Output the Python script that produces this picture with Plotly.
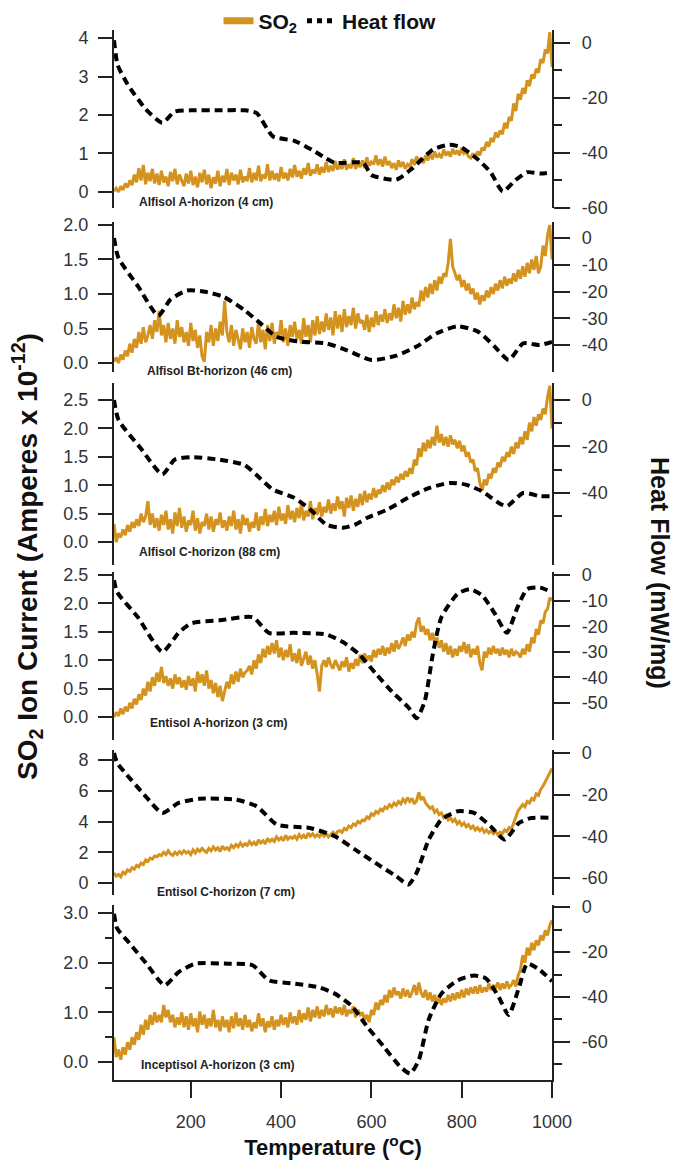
import numpy as np
import plotly.graph_objects as go
from plotly.subplots import make_subplots

# Temperature grid of the SO2 traces (deg C)
temperature = list(range(30, 1001, 5))

# SO2 ion current (Amperes x 1e-12) at 5 degC steps
so2_alfisol_a = [
    0.02, 0.10, 0.00, 0.15, 0.05, 0.22, 0.12, 0.30, 0.18, 0.45,
    0.25, 0.62, 0.30, 0.70, 0.20, 0.50, 0.28, 0.60, 0.22, 0.48,
    0.18, 0.55, 0.25, 0.40, 0.15, 0.52, 0.28, 0.60, 0.20, 0.45,
    0.30, 0.15, 0.48, 0.22, 0.55, 0.18, 0.40, 0.12, 0.50, 0.25,
    0.58, 0.20, 0.45, 0.10, 0.38, 0.22, 0.55, 0.15, 0.42, 0.25,
    0.60, 0.18, 0.50, 0.30, 0.45, 0.20, 0.58, 0.25, 0.40, 0.28,
    0.62, 0.25, 0.50, 0.30, 0.68, 0.28, 0.45, 0.35, 0.72, 0.30,
    0.55, 0.32, 0.48, 0.28, 0.65, 0.35, 0.50, 0.30, 0.60, 0.38,
    0.70, 0.40, 0.55, 0.35, 0.62, 0.45, 0.75, 0.42, 0.58, 0.48,
    0.72, 0.45, 0.65, 0.50, 0.78, 0.52, 0.68, 0.55, 0.80, 0.58,
    0.70, 0.60, 0.85, 0.58, 0.72, 0.62, 0.88, 0.60, 0.75, 0.65,
    0.82, 0.62, 0.90, 0.68, 0.78, 0.72, 0.95, 0.70, 0.85, 0.66,
    0.92, 0.70, 0.80, 0.62, 0.75, 0.58, 0.82, 0.65, 0.78, 0.60,
    0.72, 0.66, 0.85, 0.70, 0.92, 0.78, 0.88, 0.75, 0.95, 0.82,
    1.00, 0.85, 1.05, 0.90, 0.98, 0.88, 1.10, 0.95, 1.05, 0.92,
    1.12, 0.98, 1.08, 0.95, 1.15, 1.00, 1.05, 0.92, 0.88, 1.00,
    0.90, 1.05, 0.95, 1.15, 1.08, 1.30, 1.18, 1.40, 1.30, 1.55,
    1.42, 1.60, 1.50, 1.80, 1.65, 1.95, 1.85, 2.30, 2.10, 2.55,
    2.40, 2.70, 2.55, 2.90, 2.75, 3.05, 2.95, 3.20, 3.10, 3.45,
    3.35, 3.70, 3.60, 4.15, 3.25,
]
so2_alfisol_bt = [
    0.02, 0.08, 0.00, 0.12, 0.05, 0.18, 0.10, 0.28, 0.15, 0.35,
    0.22, 0.45, 0.28, 0.52, 0.30, 0.40, 0.55, 0.35, 0.62, 0.45,
    0.76, 0.40, 0.55, 0.30, 0.58, 0.35, 0.50, 0.28, 0.62, 0.38,
    0.52, 0.30, 0.45, 0.25, 0.58, 0.32, 0.48, 0.22, 0.40, 0.10,
    0.02, 0.45, 0.30, 0.55, 0.25, 0.50, 0.32, 0.60, 0.40, 0.90,
    0.45, 0.30, 0.55, 0.25, 0.48, 0.35, 0.20, 0.50, 0.30, 0.45,
    0.22, 0.52, 0.35, 0.28, 0.60, 0.30, 0.48, 0.20, 0.55, 0.32,
    0.58, 0.28, 0.45, 0.35, 0.62, 0.30, 0.50, 0.25, 0.55, 0.38,
    0.60, 0.35, 0.48, 0.28, 0.65, 0.38, 0.55, 0.30, 0.62, 0.40,
    0.68, 0.42, 0.60, 0.45, 0.72, 0.48, 0.66, 0.40, 0.75, 0.50,
    0.70, 0.45, 0.78, 0.52, 0.68, 0.55, 0.80, 0.50, 0.72, 0.58,
    0.62, 0.48, 0.70, 0.45, 0.66, 0.52, 0.75, 0.55, 0.70, 0.60,
    0.78, 0.58, 0.72, 0.62, 0.85, 0.65, 0.80, 0.60, 0.90, 0.70,
    0.85, 0.72, 0.95, 0.78, 0.88, 0.82, 1.05, 0.90, 1.10, 0.95,
    1.15, 1.00, 1.20, 1.05, 1.25, 1.15, 1.30, 1.25, 1.45, 1.80,
    1.40, 1.30, 1.20, 1.28, 1.10, 1.20, 1.05, 1.15, 1.00, 1.08,
    0.92, 1.02, 0.85, 0.98, 0.90, 1.05, 0.95, 1.10, 1.00, 1.15,
    1.05, 1.20, 1.08, 1.25, 1.12, 1.22, 1.15, 1.30, 1.18, 1.35,
    1.22, 1.40, 1.25, 1.45, 1.30, 1.50, 1.35, 1.55, 1.30, 1.40,
    1.70, 1.55, 1.85, 2.00, 1.50,
]
so2_alfisol_c = [
    0.32, 0.00, 0.15, 0.08, 0.22, 0.12, 0.30, 0.18, 0.35, 0.25,
    0.40, 0.28, 0.50, 0.35, 0.45, 0.72, 0.30, 0.50, 0.25, 0.42,
    0.20, 0.48, 0.30, 0.55, 0.22, 0.40, 0.15, 0.52, 0.28, 0.60,
    0.25, 0.45, 0.18, 0.38, 0.30, 0.55, 0.20, 0.42, 0.15, 0.35,
    0.28, 0.50, 0.22, 0.45, 0.18, 0.40, 0.30, 0.52, 0.25, 0.38,
    0.20, 0.45, 0.28, 0.55, 0.22, 0.40, 0.15, 0.48, 0.30, 0.42,
    0.18, 0.35, 0.25, 0.52, 0.20, 0.45, 0.30, 0.58, 0.28, 0.48,
    0.35, 0.55, 0.30, 0.62, 0.38, 0.50, 0.32, 0.65, 0.40, 0.55,
    0.35, 0.60, 0.42, 0.68, 0.38, 0.55, 0.45, 0.72, 0.40, 0.60,
    0.48, 0.70, 0.45, 0.62, 0.52, 0.75, 0.50, 0.68, 0.55, 0.80,
    0.58, 0.72, 0.45, 0.78, 0.60, 0.82, 0.55, 0.76, 0.62, 0.85,
    0.65, 0.90, 0.70, 0.85, 0.75, 0.95, 0.78, 0.92, 0.85, 1.00,
    0.88, 1.05, 0.92, 1.10, 1.00, 1.15, 1.05, 1.20, 1.10, 1.25,
    1.15, 1.30, 1.20, 1.45, 1.35, 1.65, 1.50, 1.75, 1.60, 1.80,
    1.65, 1.85, 1.70, 2.05, 1.75, 1.90, 1.70, 1.85, 1.68, 1.88,
    1.72, 1.80, 1.65, 1.78, 1.60, 1.70, 1.50, 1.58, 1.40, 1.45,
    1.25, 1.30, 1.05, 0.90, 1.10, 1.00, 1.20, 1.12, 1.30, 1.22,
    1.40, 1.32, 1.50, 1.42, 1.58, 1.50, 1.68, 1.55, 1.75, 1.65,
    1.85, 1.72, 1.95, 1.80, 2.10, 1.95, 2.20, 2.05, 2.25, 2.15,
    2.35, 2.25, 2.55, 2.75, 2.00,
]
so2_entisol_a = [
    0.00, 0.08, 0.02, 0.15, 0.05, 0.18, 0.10, 0.25, 0.15, 0.32,
    0.22, 0.40, 0.30, 0.50, 0.38, 0.62, 0.45, 0.70, 0.55, 0.78,
    0.62, 0.88, 0.60, 0.72, 0.55, 0.68, 0.50, 0.75, 0.58, 0.70,
    0.52, 0.65, 0.48, 0.72, 0.55, 0.68, 0.45, 0.80, 0.60, 0.75,
    0.55, 0.82, 0.50, 0.65, 0.42, 0.60, 0.35, 0.55, 0.28, 0.45,
    0.62, 0.50, 0.75, 0.58, 0.80, 0.62, 0.85, 0.70, 0.78, 0.82,
    0.90, 0.75, 1.00, 0.85, 1.10, 0.95, 1.20, 1.05, 1.25, 1.10,
    1.30, 1.12, 1.35, 1.05, 1.22, 1.00, 1.18, 1.05, 1.28, 0.98,
    1.12, 0.95, 1.20, 0.90, 1.05, 1.15, 0.92, 1.08, 0.85, 1.00,
    0.75, 0.45, 0.90, 1.00, 0.88, 1.05, 0.92, 0.85, 1.00, 0.90,
    0.82, 0.98, 0.88, 1.05, 0.80, 0.95, 0.85, 1.02, 0.90, 1.10,
    0.95, 1.12, 1.00, 1.08, 0.98, 1.18, 1.05, 1.20, 1.10, 1.25,
    1.08, 1.22, 1.12, 1.30, 1.15, 1.35, 1.20, 1.28, 1.40, 1.25,
    1.45, 1.35, 1.50, 1.40, 1.65, 1.75, 1.50, 1.60, 1.45, 1.55,
    1.35, 1.48, 1.30, 1.40, 1.22, 1.35, 1.15, 1.30, 1.10, 1.25,
    1.05, 1.20, 1.08, 1.25, 1.15, 1.32, 1.12, 1.28, 1.05, 1.20,
    1.10, 1.25, 0.95, 0.82, 1.15, 1.05, 1.22, 1.10, 1.25, 1.12,
    1.20, 1.08, 1.22, 1.10, 1.18, 1.05, 1.20, 1.08, 1.15, 1.12,
    1.05, 1.20, 1.10, 1.28, 1.15, 1.40, 1.30, 1.55, 1.45, 1.70,
    1.65, 1.85, 1.90, 2.10, 2.05,
]
so2_entisol_c = [
    0.65, 0.45, 0.55, 0.40, 0.70, 0.60, 0.85, 0.75, 1.00, 0.90,
    1.15, 1.05, 1.30, 1.20, 1.50, 1.40, 1.62, 1.55, 1.75, 1.70,
    1.85, 1.78, 2.00, 1.85, 2.10, 1.90, 1.80, 2.00, 1.85, 2.05,
    1.90, 2.10, 1.95, 2.05, 1.85, 2.15, 1.95, 2.20, 2.05, 2.25,
    2.10, 2.00, 2.25, 2.10, 2.35, 2.15, 2.30, 2.05, 2.40, 2.20,
    2.30, 2.15, 2.45, 2.30, 2.50, 2.35, 2.60, 2.40, 2.55, 2.45,
    2.70, 2.50, 2.65, 2.45, 2.80, 2.60, 2.75, 2.55, 2.90, 2.70,
    2.85, 2.70, 3.00, 2.80, 2.95, 2.75, 3.10, 2.85, 3.00, 2.90,
    3.05, 2.85, 3.15, 2.95, 3.10, 2.90, 3.25, 3.05, 3.20, 3.00,
    3.15, 3.00, 3.25, 3.05, 3.20, 3.00, 3.15, 3.30, 3.10, 3.35,
    3.40, 3.30, 3.55, 3.45, 3.70, 3.60, 3.85, 3.75, 4.00, 3.90,
    4.10, 4.05, 4.30, 4.20, 4.50, 4.40, 4.65, 4.55, 4.80, 4.70,
    4.95, 4.85, 5.10, 4.95, 5.20, 5.05, 5.30, 5.15, 5.45, 5.25,
    5.55, 5.30, 5.50, 5.15, 5.35, 5.90, 5.40, 5.60, 5.20, 5.00,
    4.85, 4.95, 4.60, 4.75, 4.45, 4.55, 4.25, 4.40, 4.10, 4.25,
    4.00, 4.15, 3.85, 4.00, 3.75, 3.90, 3.65, 3.80, 3.55, 3.70,
    3.45, 3.60, 3.40, 3.55, 3.30, 3.45, 3.25, 3.40, 3.20, 3.35,
    3.15, 3.30, 3.20, 3.45, 3.35, 3.60, 3.50, 3.90, 4.30, 4.70,
    4.90, 5.10, 4.95, 5.30, 5.20, 5.50, 5.40, 5.80, 5.70, 6.10,
    6.30, 6.60, 6.80, 7.20, 7.45,
]
so2_inceptisol_a = [
    0.50, 0.10, 0.25, 0.05, 0.30, 0.15, 0.40, 0.25, 0.50, 0.35,
    0.60, 0.45, 0.75, 0.55, 0.85, 0.65, 0.95, 0.75, 1.00, 0.80,
    0.95, 0.80, 1.15, 0.90, 1.05, 0.80, 0.95, 0.70, 0.90, 0.75,
    1.00, 0.70, 0.92, 0.65, 0.98, 0.72, 0.88, 0.60, 1.02, 0.75,
    0.95, 0.68, 0.88, 0.72, 1.05, 0.70, 0.85, 0.62, 0.92, 0.70,
    0.85, 0.60, 0.92, 0.68, 1.00, 0.72, 0.88, 0.65, 0.95, 0.70,
    0.85, 0.62, 0.80, 0.68, 0.98, 0.72, 0.88, 0.60, 0.82, 0.70,
    0.92, 0.65, 0.85, 0.72, 0.95, 0.75, 0.90, 0.70, 1.00, 0.78,
    0.92, 0.75, 1.05, 0.80, 0.98, 0.85, 1.10, 0.82, 1.05, 0.90,
    1.12, 0.88, 1.05, 0.92, 1.15, 0.95, 1.08, 0.90, 1.12, 0.98,
    1.10, 0.95, 1.15, 0.92, 1.05, 0.98, 1.12, 0.90, 1.05, 0.95,
    1.00, 0.85, 0.95, 0.80, 1.05, 0.95, 1.20, 1.05, 1.25, 1.15,
    1.35, 1.20, 1.45, 1.30, 1.50, 1.35, 1.42, 1.28, 1.48, 1.32,
    1.45, 1.30, 1.40, 1.55, 1.35, 1.60, 1.40, 1.30, 1.45, 1.25,
    1.40, 1.22, 1.35, 1.18, 1.30, 1.15, 1.28, 1.20, 1.35, 1.22,
    1.38, 1.25, 1.40, 1.28, 1.45, 1.30, 1.48, 1.35, 1.50, 1.38,
    1.52, 1.38, 1.55, 1.40, 1.50, 1.42, 1.58, 1.45, 1.55, 1.48,
    1.60, 1.45, 1.58, 1.48, 1.62, 1.50, 1.55, 1.65, 1.52, 1.75,
    1.85, 2.15, 2.00, 2.30, 2.15, 2.40, 2.25, 2.45, 2.35, 2.55,
    2.45, 2.65, 2.55, 2.75, 2.85,
]

# Heat flow (mW/mg): temperature points and values
hf_alfisol_a_t = [30, 38, 60, 100, 137, 164, 200, 260, 320, 346, 382, 428, 470, 500, 519,
                  582, 600, 655, 691, 736, 773, 800, 836, 864, 891, 918, 945, 975, 1000]
hf_alfisol_a = [1, -8, -15, -24, -29, -25, -24.5, -24.5, -24.5, -25.5, -34, -35.5, -39, -42, -43.6,
                -43.6, -48, -49.7, -45.5, -38.8, -37, -38, -42.4, -47, -54, -50, -47, -47.5, -47]
hf_alfisol_bt_t = [30, 40, 83, 128, 155, 192, 228, 273, 319, 355, 391, 446, 500, 546, 600,
                   655, 700, 745, 791, 836, 873, 904, 936, 973, 1000]
hf_alfisol_bt = [0, -7.5, -18, -29, -23, -19.6, -20, -22, -27, -32, -37, -38.8, -39.4, -42, -45.6,
                 -44, -40.6, -35.6, -33, -35, -40.6, -45.6, -39.4, -40, -38.8]
hf_alfisol_c_t = [30, 40, 90, 137, 164, 201, 264, 319, 355, 382, 428, 464, 500, 537, 564,
                  591, 637, 682, 727, 773, 809, 845, 882, 900, 936, 973, 1000]
hf_alfisol_c = [0, -8.6, -21, -32, -25.7, -24.6, -25.7, -28, -34, -38.6, -42, -47, -53.6, -55, -53.6,
                -50.7, -47, -42, -37.9, -35.7, -36.4, -39.3, -44.3, -45.7, -40, -41.4, -41.4]
hf_entisol_a_t = [30, 37, 83, 137, 173, 201, 264, 337, 373, 428, 500, 537, 573, 609, 646,
                  682, 700, 718, 736, 755, 791, 818, 845, 873, 900, 923, 945, 973, 1000]
hf_entisol_a = [-2, -6.7, -16.5, -30, -22.6, -18.9, -17.7, -16.5, -22.6, -22.6, -23.2, -26.2, -31, -38.4, -45.7,
                -51.8, -56, -49.4, -31, -16.5, -7.3, -5.5, -7.9, -15, -22.6, -12.8, -5.5, -4.9, -6.7]
hf_entisol_c_t = [30, 37, 55, 100, 137, 173, 219, 300, 346, 391, 464, 519, 564, 609, 655,
                  682, 700, 727, 755, 791, 827, 864, 895, 927, 954, 1000]
hf_entisol_c = [0, -4.8, -9.6, -20.8, -28.8, -24, -22, -22.4, -25.6, -34.4, -36, -40, -46.4, -52.8, -59.2,
                -63.2, -57.6, -41.6, -32, -28, -28.8, -35.2, -41.6, -33.6, -31.2, -31.2]
hf_inceptisol_a_t = [30, 37, 64, 101, 142, 173, 210, 282, 337, 373, 428, 482, 519, 555, 591,
                     627, 664, 686, 705, 727, 755, 791, 827, 854, 882, 904, 927, 945, 973, 1000]
hf_inceptisol_a = [-3, -9.5, -16, -25, -34.8, -28.9, -25.2, -25.2, -25.9, -32.6, -34, -35.6, -38.5, -43.7, -53.3,
                   -62, -71, -74, -68, -50, -38.5, -32.6, -30.4, -31.8, -40, -48, -35.6, -25.2, -28, -33]

sample_labels = ["Alfisol A-horizon (4 cm)", "Alfisol Bt-horizon (46 cm)", "Alfisol C-horizon (88 cm)",
                 "Entisol A-horizon (3 cm)", "Entisol C-horizon (7 cm)", "Inceptisol A-horizon (3 cm)"]
x_ticks = [200, 400, 600, 800, 1000]

so2_series = [so2_alfisol_a, so2_alfisol_bt, so2_alfisol_c, so2_entisol_a, so2_entisol_c, so2_inceptisol_a]
hf_t_series = [hf_alfisol_a_t, hf_alfisol_bt_t, hf_alfisol_c_t, hf_entisol_a_t, hf_entisol_c_t, hf_inceptisol_a_t]
hf_series = [hf_alfisol_a, hf_alfisol_bt, hf_alfisol_c, hf_entisol_a, hf_entisol_c, hf_inceptisol_a]
for s in so2_series:
    assert len(s) == len(temperature), len(s)
for t, h in zip(hf_t_series, hf_series):
    assert len(t) == len(h)

# ---- layout / styling ----
# The page body adds an 8px offset, so the figure is 8px smaller and all
# target pixel positions (in window coordinates) are shifted by 8.
OFF = 8
W, H = 680 - OFF, 1168 - OFF
PLOT_L, PLOT_R, PLOT_T, PLOT_B = 114, 580, 30, 1080   # window px
ML, MR, MT, MB = PLOT_L - OFF, W - (PLOT_R - OFF), PLOT_T - OFF, H - (PLOT_B - OFF)
PH = PLOT_B - PLOT_T
PW = PLOT_R - PLOT_L


def py(px):  # window pixel y -> paper y
    return (PLOT_B - px) / PH


def pxx(px):  # window pixel x -> paper x
    return (px - PLOT_L) / PW


panels = [
    dict(dom=(30, 208), lr=[-0.416, 4.208], lt=[0, 1, 2, 3, 4], ltt=["0", "1", "2", "3", "4"], lminor=None,
         rr=[-60, 4.7], rt=[0, -20, -40, -60], rminor=[-10, -30, -50], lab=(137, 202)),
    dict(dom=(222, 372), lr=[-0.13, 2.043], lt=[0, 0.5, 1, 1.5, 2], ltt=["0.0", "0.5", "1.0", "1.5", "2.0"], lminor=None,
         rr=[-50.1, 6.0], rt=[0, -10, -20, -30, -40], rminor=None, lab=(145, 371)),
    dict(dom=(383, 565), lr=[-0.405, 2.8], lt=[0, 0.5, 1, 1.5, 2, 2.5], ltt=["0.0", "0.5", "1.0", "1.5", "2.0", "2.5"], lminor=None,
         rr=[-71, 7.3], rt=[0, -20, -40], rminor=[-10, -30, -50], lab=(137, 552)),
    dict(dom=(572, 740), lr=[-0.405, 2.553], lt=[0, 0.5, 1, 1.5, 2, 2.5], ltt=["0.0", "0.5", "1.0", "1.5", "2.0", "2.5"], lminor=None,
         rr=[-64.5, 1.2], rt=[0, -10, -20, -30, -40, -50], rminor=None, lab=(148, 723)),
    dict(dom=(750, 895), lr=[-0.78, 8.65], lt=[0, 2, 4, 6, 8], ltt=["0", "2", "4", "6", "8"], lminor=None,
         rr=[-68.2, 1.44], rt=[0, -20, -40, -60], rminor=None, lab=(155, 892)),
    dict(dom=(905, 1080), lr=[-0.36, 3.16], lt=[0, 1, 2, 3], ltt=["0.0", "1.0", "2.0", "3.0"], lminor=[0.5, 1.5, 2.5],
         rr=[-76.9, 0.9], rt=[0, -20, -40, -60], rminor=[-10, -30, -50, -70], lab=(139, 1065)),
]

ORANGE = "#D4921E"
AXC = "#222222"
FONT = "Liberation Sans, Arial, sans-serif"

fig = make_subplots(rows=6, cols=1, shared_xaxes=True,
                    specs=[[{"secondary_y": True}] for _ in range(6)], vertical_spacing=0.01)

for i in range(6):
    r = i + 1
    fig.add_trace(go.Scatter(x=temperature, y=so2_series[i], mode="lines",
                             line=dict(color=ORANGE, width=3), showlegend=False, hoverinfo="skip"),
                  row=r, col=1, secondary_y=False)
    fig.add_trace(go.Scatter(x=hf_t_series[i], y=hf_series[i], mode="lines",
                             line=dict(color="black", width=4, dash="8px,5px", shape="spline", smoothing=0.6),
                             showlegend=False, hoverinfo="skip"),
                  row=r, col=1, secondary_y=True)

# legend-only entries
fig.add_trace(go.Scatter(x=[None], y=[None], mode="lines", name="<b>SO<sub>2</sub></b>",
                         line=dict(color=ORANGE, width=7)), row=1, col=1, secondary_y=False)
fig.add_trace(go.Scatter(x=[None], y=[None], mode="lines", name="<b>Heat flow</b>",
                         line=dict(color="black", width=5, dash="dot")), row=1, col=1, secondary_y=True)

for i, p in enumerate(panels):
    r = i + 1
    top, bot = p["dom"]
    dom = [py(bot), py(top)]
    lminor = dict(ticks="outside", ticklen=7, tickwidth=2, tickcolor=AXC, tickvals=p["lminor"]) if p["lminor"] else None
    rminor = dict(ticks="outside", ticklen=8, tickwidth=2, tickcolor=AXC, tickvals=p["rminor"]) if p["rminor"] else None
    fig.update_yaxes(row=r, col=1, secondary_y=False, domain=dom, range=p["lr"],
                     tickvals=p["lt"], ticktext=p["ltt"], ticks="outside", ticklen=14, tickwidth=2,
                     tickcolor=AXC, showline=True, linewidth=2, linecolor=AXC, showgrid=False,
                     zeroline=False, tickfont=dict(size=18, color="#333", family=FONT),
                     ticklabelstandoff=6, minor=lminor, automargin=False)
    fig.update_yaxes(row=r, col=1, secondary_y=True, domain=dom, range=p["rr"],
                     tickvals=p["rt"], ticktext=[str(v) for v in p["rt"]], ticks="outside", ticklen=16,
                     tickwidth=2, tickcolor=AXC, showline=True, linewidth=2, linecolor=AXC,
                     showgrid=False, zeroline=False, tickfont=dict(size=18, color="#333", family=FONT),
                     ticklabelstandoff=8, minor=rminor, automargin=False)
    fig.add_annotation(text="<b>" + sample_labels[i] + "</b>", xref="paper", yref="paper",
                       x=pxx(p["lab"][0]), y=py(p["lab"][1]), xanchor="left", yanchor="middle",
                       showarrow=False, font=dict(size=12, color="#222", family=FONT))

for r in range(1, 6):
    fig.update_xaxes(row=r, col=1, range=[30, 1000], visible=False)
fig.update_xaxes(row=6, col=1, range=[30, 1000], tickvals=x_ticks, ticks="outside", ticklen=16,
                 tickwidth=2, tickcolor=AXC, showline=True, linewidth=2, linecolor=AXC, showgrid=False,
                 zeroline=False, tickfont=dict(size=18, color="#333", family=FONT), ticklabelstandoff=8,
                 automargin=False,
                 title=dict(text="<b>Temperature (<sup>o</sup>C)</b>", font=dict(size=22, color="#111", family=FONT),
                            standoff=8))

fig.add_annotation(text="<b>SO<sub>2</sub> Ion Current (Amperes x 10<sup>-12</sup>)</b>", xref="paper", yref="paper",
                   x=pxx(27), y=py(557), textangle=-90, showarrow=False, xanchor="center", yanchor="middle",
                   font=dict(size=28, color="#111", family=FONT))
fig.add_annotation(text="<b>Heat Flow (mW/mg)</b>", xref="paper", yref="paper",
                   x=pxx(660), y=py(573), textangle=90, showarrow=False, xanchor="center", yanchor="middle",
                   font=dict(size=25, color="#111", family=FONT))

fig.update_layout(
    width=W, height=H, margin=dict(l=ML, r=MR, t=MT, b=MB, autoexpand=False),
    paper_bgcolor="white", plot_bgcolor="white",
    font=dict(family=FONT, color="#111"),
    showlegend=True,
    legend=dict(orientation="h", xref="container", yref="container",
                x=(330 - OFF) / W, xanchor="center", y=1 - (21 - OFF) / H, yanchor="middle",
                font=dict(size=21, color="#111", family=FONT), bgcolor="rgba(0,0,0,0)",
                itemwidth=30, tracegroupgap=0),
)

fig.write_html("out.html")
